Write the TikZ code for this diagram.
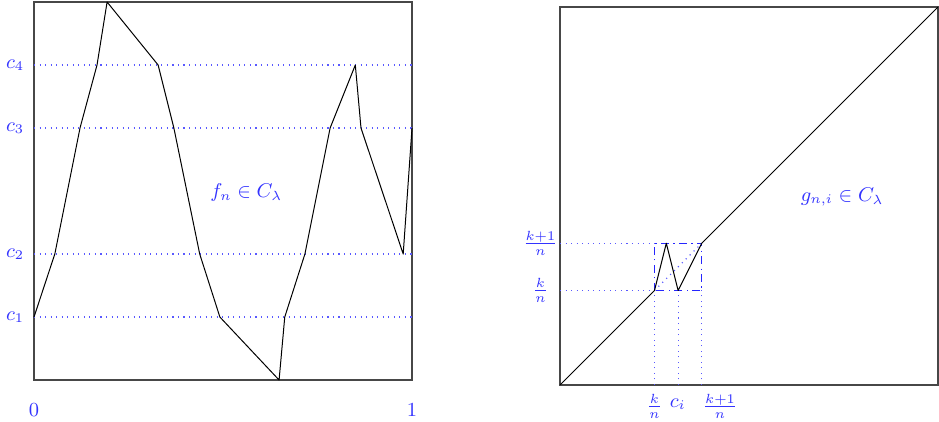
\documentclass[tikz,border=0pt]{standalone}
\begin{document}
\begin{tikzpicture}[x=1cm,y=1cm,
  frame/.style={line width=0.6pt,draw=black!72},
  graph/.style={line width=0.45pt,black,line join=round},
  guide/.style={dotted,draw=blue!65,line width=0.5pt},
  sqbox/.style={dash pattern=on 3.5pt off 2pt on 0.6pt off 2pt,draw=blue!85,line width=0.65pt},
  lab/.style={text=blue!80,inner sep=1pt,font=\small}]
\useasboundingbox (-0.540,-0.651) rectangle (14.365,6.032);
% ---------- left panel ----------
\draw[frame] (0,0) rectangle (6,6);
\foreach \y in {1,2,4,5} \draw[guide] (0,\y) -- (6,\y);
\node[lab] (c1) at (-0.30,1) {$c_1$};
\node[lab] (c2) at (-0.30,2) {$c_2$};
\node[lab] (c3) at (-0.30,4) {$c_3$};
\node[lab] (c4) at (-0.30,5) {$c_4$};
\node[lab] (zero) at (0,-0.47) {$0$};
\node[lab] (one) at (6,-0.47) {$1$};
\node[lab] (fn) at (3.37,2.97) {$f_n\in C_\lambda$};
\draw[graph] (0,1) -- (0.33,2) -- (0.73,4) -- (1.0,5) -- (1.16,6) -- (1.97,5)
  -- (2.22,4) -- (2.63,2) -- (2.95,1) -- (3.89,0) -- (3.98,1) -- (4.30,2)
  -- (4.70,4) -- (5.10,5) -- (5.19,4) -- (5.86,2) -- (6,4);
% ---------- right panel ----------
\begin{scope}[shift={(8.349,-0.079)}]
\draw[frame] (0,0) rectangle (6,6);
\draw[guide] (0,1.5) -- (1.5,1.5);
\draw[guide] (0,2.25) -- (1.5,2.25);
\draw[guide] (1.5,0) -- (1.5,1.5);
\draw[guide] (1.875,0) -- (1.875,1.5);
\draw[guide] (2.25,0) -- (2.25,1.5);
\draw[guide] (1.5,1.5) -- (2.25,2.25);
\draw[sqbox] (1.5,1.5) rectangle (2.25,2.25);
\draw[graph] (0,0) -- (1.5,1.5) -- (1.6875,2.25) -- (1.875,1.5) -- (2.25,2.25) -- (6,6);
\node[lab] (kn1l) at (-0.31,2.25) {$\frac{k+1}{n}$};
\node[lab] (knl) at (-0.31,1.5) {$\frac{k}{n}$};
\node[lab] (knb) at (1.5,-0.34) {$\frac{k}{n}$};
\node[lab] (ci) at (1.87,-0.30) {$c_i$};
\node[lab] (kn1b) at (2.54,-0.34) {$\frac{k+1}{n}$};
\node[lab] (gn) at (4.48,2.98) {$g_{n,i}\in C_\lambda$};
\end{scope}
\end{tikzpicture}
\end{document}
